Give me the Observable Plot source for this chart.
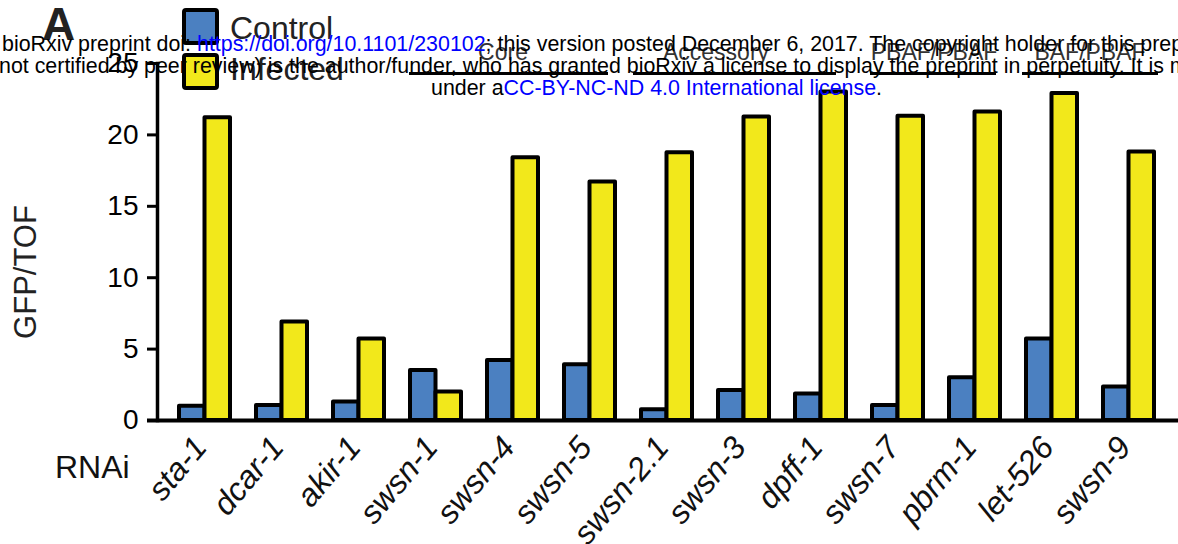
<!DOCTYPE html>
<html>
<head>
<meta charset="utf-8">
<script src="https://cdn.jsdelivr.net/npm/d3@7"></script>
<script src="https://cdn.jsdelivr.net/npm/@observablehq/plot@0.6"></script>
<style>
  body { margin: 0; background: #fff; }
  #wrap { position: relative; width: 1178px; height: 544px; overflow: hidden; font-family: "Liberation Sans", Arial, sans-serif; }
  #wrap > svg { position: absolute; left: 0; top: 0; }
</style>
</head>
<body>
<div id="wrap"></div>
<script>
// ---- data ----
const genes = ["sta-1", "dcar-1", "akir-1", "swsn-1", "swsn-4", "swsn-5", "swsn-2.1", "swsn-3", "dpff-1", "swsn-7", "pbrm-1", "let-526", "swsn-9"];
const controlValues  = [1.0, 1.05, 1.3, 3.5, 4.2, 3.9, 0.75, 2.1, 1.85, 1.05, 3.0, 5.7, 2.35];
const infectedValues = [21.2, 6.9, 5.7, 2.0, 18.4, 16.7, 18.75, 21.25, 23.0, 21.3, 21.6, 22.9, 18.8];
const seriesNames = ["Control", "Infected"];
const seriesColors = ["#4b80c1", "#f2e81b"];
const yTicks = [0, 5, 10, 15, 20, 25];
const groupLabels = ["Core", "Accessory", "PBAF/PBAF", "BAF/PBAF"];
const groupFirst  = ["swsn-1", "swsn-2.1", "swsn-7", "let-526"];
const groupLast   = ["swsn-5", "dpff-1", "pbrm-1", "swsn-9"];
const groupAnchor = ["swsn-4", "swsn-3", "swsn-7", "let-526"];
const yLabel = "GFP/TOF";
const xLabel = "RNAi";
const panelLetter = "A";
const headerLine1 = ["bioRxiv preprint doi: ", "https://doi.org/10.1101/230102", "; this version posted December 6, 2017. The copyright holder for this preprint (which was"];
const headerLine2 = ["not certified by peer review) is the author/funder, who has granted bioRxiv a license to display the preprint in perpetuity. It is made available"];
const headerLine3 = ["under a", "CC-BY-NC-ND 4.0 International license", "."];

const data = genes.flatMap((g, i) => [
  {gene: g, series: seriesNames[0], value: controlValues[i]},
  {gene: g, series: seriesNames[1], value: infectedValues[i]}
]);
const groups = groupLabels.map((label, i) => ({label, first: groupFirst[i], last: groupLast[i], anchor: groupAnchor[i]}));

// ---- styles for group annotations ----
const groupStyle = [
  {dx: -10, inL: -1, inR: 7},
  {dx: -28, inL: -8, inR: 10},
  {dx: 36, inL: -2, inR: 4},
  {dx: 38, inL: -4, inR: -4}
];

const half = 25.5;
const barStyle = {x: "gene", y: "value", fill: "series", stroke: "#000", strokeWidth: 4, strokeLinejoin: "round"};

const chart = Plot.plot({
  width: 1178,
  height: 544,
  marginLeft: 157,
  marginRight: 2,
  marginTop: 63,
  marginBottom: 124,
  style: {fontFamily: "'Liberation Sans', Arial, sans-serif", background: "transparent", color: "#000", overflow: "visible"},
  x: {domain: genes, paddingInner: 0.34, paddingOuter: 0.2585, axis: null},
  y: {domain: [0, 25]},
  color: {domain: seriesNames, range: seriesColors},
  marks: [
    Plot.barY(data, {...barStyle, filter: d => d.series === seriesNames[0], insetRight: half}),
    Plot.barY(data, {...barStyle, filter: d => d.series === seriesNames[1], insetLeft: half}),
    Plot.ruleY([0], {stroke: "#000", strokeWidth: 4, insetLeft: -10, insetRight: -4}),
    Plot.frame({anchor: "left", stroke: "#000", strokeWidth: 3.5}),
    Plot.axisY({ticks: yTicks, tickSize: 10, tickPadding: 9, fontSize: 28, strokeWidth: 3, label: null, tickFormat: d => String(d)}),
    Plot.text(genes, {x: d => d, frameAnchor: "bottom", dx: -14, dy: 13, rotate: -50, textAnchor: "end", lineAnchor: "top", fontSize: 32, fontStyle: "italic", fill: "#111"}),
    ...groups.map((g, i) => Plot.ruleY([g], {x1: "first", x2: "last", y: () => 25, dy: 10, stroke: "#000", strokeWidth: 3, insetLeft: groupStyle[i].inL, insetRight: groupStyle[i].inR})),
    ...groups.map((g, i) => Plot.text([g], {x: "anchor", y: () => 25, text: "label", dx: groupStyle[i].dx, dy: -11, lineAnchor: "middle", fontSize: 23, fill: "#333"}))
  ]
});

const wrap = document.getElementById("wrap");
wrap.appendChild(chart);

// ---- overlay: panel letter, legend, axis titles, header ----
const ov = d3.select(wrap).append("svg")
  .attr("width", 1178).attr("height", 544)
  .style("font-family", "'Liberation Sans', Arial, sans-serif")
  .style("pointer-events", "none");

ov.append("text").attr("x", 42).attr("y", 40).attr("font-size", 46).attr("font-weight", "bold").attr("fill", "#222").text(panelLetter);

seriesNames.forEach((name, i) => {
  ov.append("rect").attr("x", 184).attr("y", 10 + i * 45).attr("width", 33).attr("height", 33).attr("rx", 2)
    .attr("fill", seriesColors[i]).attr("stroke", "#000").attr("stroke-width", 4);
  ov.append("text").attr("x", 230).attr("y", 39 + i * 41).attr("font-size", 32).attr("fill", "#222").text(name);
});

ov.append("text").attr("transform", "translate(36,272) rotate(-90)").attr("text-anchor", "middle").attr("font-size", 31).attr("fill", "#222").text(yLabel);
ov.append("text").attr("x", 55).attr("y", 478).attr("font-size", 32).attr("fill", "#111").text(xLabel);

function headerLine(parts, x, y, anchor, linkIdx) {
  const t = ov.append("text").attr("x", x).attr("y", y).attr("font-size", 21.4).attr("fill", "#000").attr("text-anchor", anchor).attr("xml:space", "preserve").style("white-space", "pre");
  parts.forEach((p, i) => t.append("tspan").attr("fill", i === linkIdx ? "#0000ff" : "#000").text(p));
}
headerLine(headerLine1, 2, 51, "start", 1);
headerLine(headerLine2, -1, 73, "start", -1);
headerLine(headerLine3, 431, 95, "start", 1);
</script>
</body>
</html>
